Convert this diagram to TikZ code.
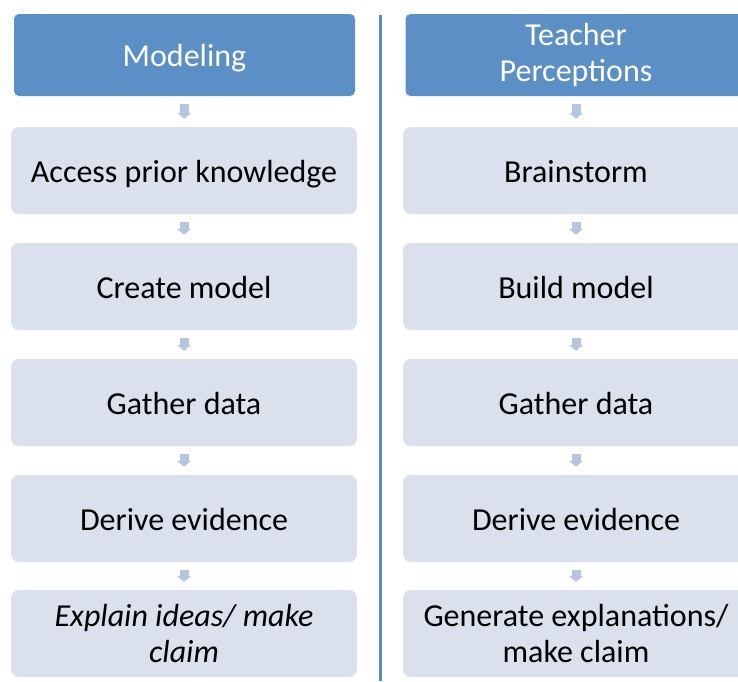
\documentclass[tikz,border=0pt]{standalone}
\usepackage{fontspec}
\setmainfont{Carlito}
\usetikzlibrary{arrows.meta}
\definecolor{headblue}{RGB}{91,143,197}
\definecolor{stepgray}{RGB}{218,225,236}
\definecolor{arrowblue}{RGB}{180,198,224}
\definecolor{lineblue}{RGB}{90,138,194}

\begin{document}
\begin{tikzpicture}[x=1pt, y=-1pt,
  headbox/.style={fill=headblue, rounded corners=5pt, minimum width=341pt, minimum height=82pt,
    inner sep=0pt, text=white, align=center, font=\fontsize{32}{36}\selectfont},
  stepbox/.style={fill=stepgray, rounded corners=8pt, minimum width=346pt, minimum height=87pt,
    inner sep=0pt, text=black, align=center, font=\fontsize{32}{36}\selectfont},
  oneline/.style={text height=23pt, text depth=0pt},
  flow/.style={draw=arrowblue, line width=9pt, -{Triangle[width=14pt,length=6pt]},
    shorten <=8pt, shorten >=8pt}]
\useasboundingbox (0,0) rectangle (738,681);
\clip (0,0) rectangle (738,681);

% Modeling
\node[headbox, oneline] (mhead) at (184.5,55) {Modeling};
\node[stepbox, oneline] (m1) at (184,170.5) {Access prior knowledge};
\node[stepbox, oneline] (m2) at (184,286.5) {Create model};
\node[stepbox, oneline] (m3) at (184,402.5) {Gather data};
\node[stepbox, oneline] (m4) at (184,518.5) {Derive evidence};
\node[stepbox] (m5) at (184,633.5) {\itshape Explain ideas/ make\\ \itshape claim};

% Teacher Perceptions
\node[headbox] (thead) at (576,55) {Teacher\\Perceptions};
\node[stepbox, oneline] (t1) at (576,170.5) {Brainstorm};
\node[stepbox, oneline] (t2) at (576,286.5) {Build model};
\node[stepbox, oneline] (t3) at (576,402.5) {Gather data};
\node[stepbox, oneline] (t4) at (576,518.5) {Derive evidence};
\node[stepbox] (t5) at (576,633.5) {Generate explanations/\\make claim};

% Pfeile
\draw[flow] (mhead) -- (m1);
\draw[flow] (m1) -- (m2);
\draw[flow] (m2) -- (m3);
\draw[flow] (m3) -- (m4);
\draw[flow] (m4) -- (m5);
\draw[flow] (thead) -- (t1);
\draw[flow] (t1) -- (t2);
\draw[flow] (t2) -- (t3);
\draw[flow] (t3) -- (t4);
\draw[flow] (t4) -- (t5);

% Trennlinie
\coordinate (divtop) at (380,15);
\coordinate (divbot) at (380,681);
\draw[lineblue, line width=3pt] (divtop) -- (divbot);
\end{tikzpicture}
\end{document}
